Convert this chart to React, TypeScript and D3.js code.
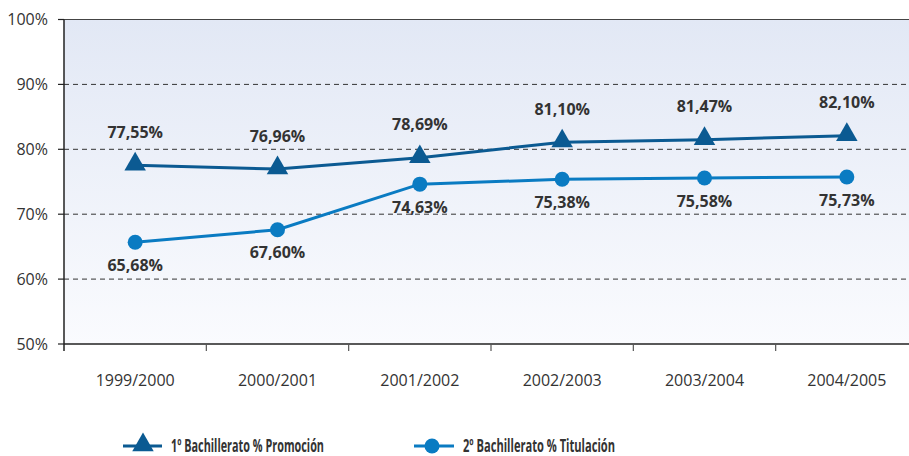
import React from "react";
import * as d3 from "d3";

const categories = ["1999/2000", "2000/2001", "2001/2002", "2002/2003", "2003/2004", "2004/2005"];
const promocion = [77.55, 76.96, 78.69, 81.1, 81.47, 82.1];
const titulacion = [65.68, 67.6, 74.63, 75.38, 75.58, 75.73];
const yTicks = [50, 60, 70, 80, 90, 100];
const seriesNames = ["1º Bachillerato % Promoción", "2º Bachillerato % Titulación"];

const W = 909, H = 456;
const left = 64, top = 19.5, bottom = 344, rightEnd = 918;
const c1 = "#0b5a92";
const c2 = "#0a7bc2";
const fmt = (v: number) => v.toFixed(2).replace(".", ",") + "%";

export default function App() {
  const x = d3.scaleBand<string>().domain(categories).range([left, rightEnd]);
  const cx = (c: string) => (x(c) ?? 0) + x.bandwidth() / 2;
  const y = d3.scaleLinear().domain([50, 100]).range([bottom, top]);
  const line = d3.line<number>().x((_, i) => cx(categories[i])).y((d) => y(d));
  const tri = d3.symbol().type(d3.symbolTriangle).size(200)();
  const font = "'Open Sans', 'DejaVu Sans', sans-serif";
  return (
    <svg width={W} height={H} style={{ position: "absolute", left: 0, top: 0 }}>
      <defs>
        <linearGradient id="bg" x1="0" y1="0" x2="0" y2="1">
          <stop offset="0" stopColor="#e2e8f5" />
          <stop offset="1" stopColor="#fafbfe" />
        </linearGradient>
      </defs>
      <rect x={left} y={top} width={W - left} height={bottom - top} fill="url(#bg)" />
      {yTicks.slice(1, -1).map((t) => (
        <line key={t} x1={left} x2={W} y1={y(t)} y2={y(t)} stroke="#333" strokeWidth={1} strokeDasharray="5,4" />
      ))}
      <line x1={left} x2={W} y1={top} y2={top} stroke="#444" strokeWidth={1.2} />
      <line x1={left} x2={W} y1={bottom} y2={bottom} stroke="#222" strokeWidth={1.5} />
      <line x1={left} x2={left} y1={top} y2={bottom + 7} stroke="#222" strokeWidth={1.5} />
      {yTicks.map((t) => (
        <g key={t}>
          <line x1={left - 6} x2={left} y1={y(t)} y2={y(t)} stroke="#222" strokeWidth={1.2} />
          <text x={48} y={y(t)} dy="0.35em" textAnchor="end" fontFamily={font} fontSize={16} fill="#333">
            {t}%
          </text>
        </g>
      ))}
      {categories.map((c, i) => (
        <g key={c}>
          {i > 0 && <line x1={x(c)} x2={x(c)} y1={bottom} y2={bottom + 7} stroke="#555" strokeWidth={1.2} />}
          <text x={cx(c)} y={380} dy="0.35em" textAnchor="middle" fontFamily={font} fontSize={16} fill="#333">
            {c}
          </text>
        </g>
      ))}
      <path d={line(promocion) ?? ""} fill="none" stroke={c1} strokeWidth={3} />
      <path d={line(titulacion) ?? ""} fill="none" stroke={c2} strokeWidth={3} />
      {promocion.map((v, i) => (
        <g key={"p" + i}>
          <path d={tri ?? ""} transform={`translate(${cx(categories[i])},${y(v) - 1})`} fill={c1} />
          <text x={cx(categories[i])} y={y(v) - 33} dy="0.35em" textAnchor="middle" fontFamily={font} fontWeight={700} fontSize={16} fill="#333">
            {fmt(v)}
          </text>
        </g>
      ))}
      {titulacion.map((v, i) => (
        <g key={"t" + i}>
          <circle cx={cx(categories[i])} cy={y(v)} r={7.5} fill={c2} />
          <text x={cx(categories[i])} y={y(v) + 23} dy="0.35em" textAnchor="middle" fontFamily={font} fontWeight={700} fontSize={16} fill="#333">
            {fmt(v)}
          </text>
        </g>
      ))}
      <g>
        <line x1={123} x2={162} y1={446} y2={446} stroke={c1} strokeWidth={3} />
        <path d={tri ?? ""} transform={`translate(143,445)`} fill={c1} />
        <text x={171} y={446} dy="0.35em" fontFamily={font} fontWeight={700} fontSize={17} fill="#333" textLength={153} lengthAdjust="spacingAndGlyphs">
          {seriesNames[0]}
        </text>
        <line x1={414} x2={454} y1={446} y2={446} stroke={c2} strokeWidth={3} />
        <circle cx={432} cy={446} r={7.5} fill={c2} />
        <text x={463} y={446} dy="0.35em" fontFamily={font} fontWeight={700} fontSize={17} fill="#333" textLength={152} lengthAdjust="spacingAndGlyphs">
          {seriesNames[1]}
        </text>
      </g>
    </svg>
  );
}
